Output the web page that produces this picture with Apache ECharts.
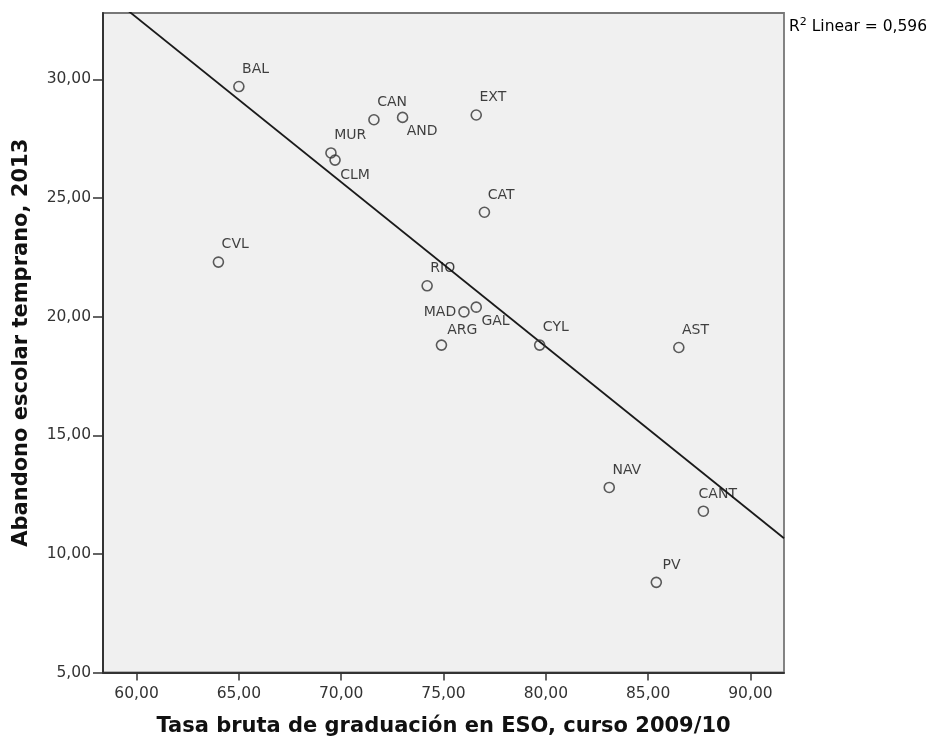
<!DOCTYPE html>
<html><head><meta charset="utf-8">
<script src="https://cdn.jsdelivr.net/npm/echarts@6/dist/echarts.min.js"></script>
<style>html,body{margin:0;padding:0;background:#fff}#c{width:932px;height:742px}</style>
</head><body><div id="c"></div>
<script>
// ---- data ----
const regions = ['BAL','CAN','AND','EXT','MUR','CLM','CVL','RIO','MAD','GAL','ARG','CAT','AST','CYL','NAV','CANT','PV'];
const graduacion = [65.0,71.6,73.0,76.6,69.5,69.7,64.0,74.2,76.0,76.6,74.9,77.0,86.5,79.7,83.1,87.7,85.4];
const abandono   = [29.7,28.3,28.4,28.5,26.9,26.6,22.3,21.3,20.2,20.4,18.8,24.4,18.7,18.8,12.8,11.8,8.8];
const xTicks = [60,65,70,75,80,85,90];
const yTicks = [5,10,15,20,25,30];
const xTitle = 'Tasa bruta de graduación en ESO, curso 2009/10';
const yTitle = 'Abandono escolar temprano, 2013';
const r2Value = '0,596';

// ---- style (label placement, not data) ----
const FONT = 'DejaVu Sans';
const defaultOffset = [4, -16.5];
const labelOffsets = {AND:[5,15], CLM:[6,16], GAL:[6,15], ARG:[6.6,-14], CANT:[-4,-16], PV:[7,-16]};
const leftLabels = {MAD:true};

const XMIN = 58.36, XMAX = 91.64, YMIN = 5, YMAX = 32.8;
const fmt = v => v.toFixed(2).replace('.', ',');

// least-squares fit line
const n = graduacion.length;
const mx = graduacion.reduce((a,b)=>a+b,0)/n;
const my = abandono.reduce((a,b)=>a+b,0)/n;
let sxy = 0, sxx = 0;
for (let i=0;i<n;i++){ sxy += (graduacion[i]-mx)*(abandono[i]-my); sxx += (graduacion[i]-mx)**2; }
const slope = sxy/sxx, icpt = my - slope*mx;
const fitLine = [[XMIN, icpt+slope*XMIN],[XMAX, icpt+slope*XMAX]];

const LBL = {fontFamily:FONT, fontSize:14, color:'#111'};
const pts = regions.map((r,i)=>{
  let label;
  if (leftLabels[r]) {
    label = Object.assign({position:'left', distance:2}, LBL);
  } else {
    const o = labelOffsets[r] || defaultOffset;
    label = Object.assign({position:[5+o[0], 5+o[1]], align:'left', verticalAlign:'middle'}, LBL);
  }
  return {name:r, value:[graduacion[i], abandono[i]], label};
});

const chart = echarts.init(document.getElementById('c'), null, {renderer:'canvas'});
chart.setOption({
  animation:false,
  backgroundColor:'#ffffff',
  grid:{left:103, top:13, right:148, bottom:67, show:true, backgroundColor:'#f0f0f0', borderColor:'#777', borderWidth:1.8},
  xAxis:{
    type:'value', min:XMIN, max:XMAX,
    splitLine:{show:false},
    axisLine:{show:true, onZero:false, lineStyle:{color:'#333', width:2}},
    axisTick:{show:true, customValues:xTicks, length:8, lineStyle:{color:'#333', width:1.5}},
    axisLabel:{customValues:xTicks, formatter:fmt, margin:13, color:'#333', fontSize:15.5, fontFamily:FONT},
    name:xTitle, nameLocation:'middle', nameGap:54,
    nameTextStyle:{fontFamily:FONT, fontWeight:'bold', fontSize:21, color:'#111', verticalAlign:'middle'}
  },
  yAxis:{
    type:'value', min:YMIN, max:YMAX,
    splitLine:{show:false},
    axisLine:{show:true, onZero:false, lineStyle:{color:'#333', width:2}},
    axisTick:{show:true, customValues:yTicks, length:10, lineStyle:{color:'#333', width:1.5}},
    axisLabel:{customValues:yTicks, formatter:fmt, margin:12, color:'#333', fontSize:15.5, fontFamily:FONT},
    name:yTitle, nameLocation:'middle', nameGap:81, nameRotate:90,
    nameTextStyle:{fontFamily:FONT, fontWeight:'bold', fontSize:21, color:'#111', verticalAlign:'middle'}
  },
  series:[
    {
      type:'line', data:fitLine, showSymbol:false, symbol:'none', clip:true,
      lineStyle:{color:'#1a1a1a', width:1.8}, silent:true, z:2
    },
    {
      type:'scatter', data:pts, symbol:'circle', symbolSize:10,
      itemStyle:{color:'rgba(0,0,0,0)', borderColor:'#333', borderWidth:1.6},
      label:Object.assign({show:true, formatter:'{b}'}, LBL),
      labelLayout:{hideOverlap:false},
      z:3
    }
  ],
  graphic:[
    {type:'text', left:789, top:17, style:{
      text:'{a|R}{s|2}{a| Linear = ' + r2Value + '}',
      rich:{a:{fontFamily:FONT, fontSize:15.5, color:'#111', verticalAlign:'bottom'}, s:{fontFamily:FONT, fontSize:11, color:'#111', padding:[0,0,7,0], verticalAlign:'bottom'}}
    }}
  ]
});
</script>
</body></html>
